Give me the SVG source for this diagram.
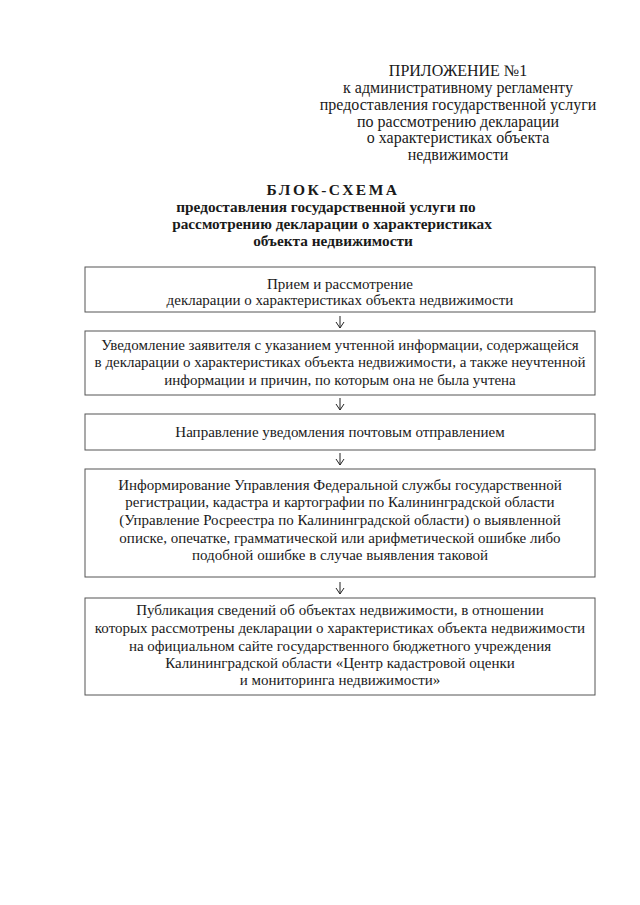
<svg xmlns="http://www.w3.org/2000/svg" width="640" height="905" viewBox="0 0 640 905">
<defs>
<style>
text{font-family:"Liberation Serif","Times New Roman",serif;fill:#1a1a1a;text-anchor:middle}
.h{font-size:16px}
.t{font-size:15.3px;font-weight:bold}
.tt{font-size:15.5px;font-weight:bold;letter-spacing:2.5px}
.b{font-size:15px}
.box{fill:#fff;stroke:#555;stroke-width:1}
.c{stroke:#222;stroke-width:1;fill:none}
</style>
<marker id="arr" markerWidth="8" markerHeight="10" refX="7" refY="5" orient="auto" markerUnits="userSpaceOnUse" viewBox="0 0 8 10">
<path d="M1,1 L7,5 L1,9" fill="none" stroke="#222" stroke-width="1"/>
</marker>
</defs>
<rect width="640" height="905" fill="#fff"/>
<g id="header">
<text class="h" x="458" y="76">ПРИЛОЖЕНИЕ №1</text>
<text class="h" x="458" y="93">к административному регламенту</text>
<text class="h" x="458" y="110">предоставления государственной услуги</text>
<text class="h" x="458" y="127">по рассмотрению декларации</text>
<text class="h" x="458" y="143">о характеристиках объекта</text>
<text class="h" x="458" y="160">недвижимости</text>
</g>
<g id="title">
<text class="tt" x="333" y="195">БЛОК-СХЕМА</text>
<text class="t" x="326" y="212">предоставления государственной услуги по</text>
<text class="t" x="332" y="229">рассмотрению декларации о характеристиках</text>
<text class="t" x="333" y="246">объекта недвижимости</text>
</g>
<g id="n1">
<rect class="box" x="85" y="267" width="510" height="45"/>
<text class="b" x="340" y="289">Прием и рассмотрение</text>
<text class="b" x="340" y="305">декларации о характеристиках объекта недвижимости</text>
</g>
<g id="n2">
<rect class="box" x="85" y="331" width="510" height="64"/>
<text class="b" x="340" y="350">Уведомление заявителя с указанием учтенной информации, содержащейся</text>
<text class="b" x="340" y="367">в декларации о характеристиках объекта недвижимости, а также неучтенной</text>
<text class="b" x="340" y="385">информации и причин, по которым она не была учтена</text>
</g>
<g id="n3">
<rect class="box" x="85" y="414" width="510" height="36"/>
<text class="b" x="340" y="437">Направление уведомления почтовым отправлением</text>
</g>
<g id="n4">
<rect class="box" x="85" y="469" width="510" height="108"/>
<text class="b" x="340" y="490">Информирование Управления Федеральной службы государственной</text>
<text class="b" x="340" y="507">регистрации, кадастра и картографии по Калининградской области</text>
<text class="b" x="340" y="525">(Управление Росреестра по Калининградской области) о выявленной</text>
<text class="b" x="340" y="543">описке, опечатке, грамматической или арифметической ошибке либо</text>
<text class="b" x="340" y="560">подобной ошибке в случае выявления таковой</text>
</g>
<g id="n5">
<rect class="box" x="85" y="598" width="510" height="97"/>
<text class="b" x="340" y="615">Публикация сведений об объектах недвижимости, в отношении</text>
<text class="b" x="340" y="633">которых рассмотрены декларации о характеристиках объекта недвижимости</text>
<text class="b" x="340" y="651">на официальном сайте государственного бюджетного учреждения</text>
<text class="b" x="340" y="668">Калининградской области «Центр кадастровой оценки</text>
<text class="b" x="340" y="685">и мониторинга недвижимости»</text>
</g>
<g id="connectors">
<path class="c" d="M340,316 L340,328" marker-end="url(#arr)"/>
<path class="c" d="M340,398 L340,410" marker-end="url(#arr)"/>
<path class="c" d="M340,453 L340,465" marker-end="url(#arr)"/>
<path class="c" d="M340,582 L340,594" marker-end="url(#arr)"/>
</g>
</svg>
